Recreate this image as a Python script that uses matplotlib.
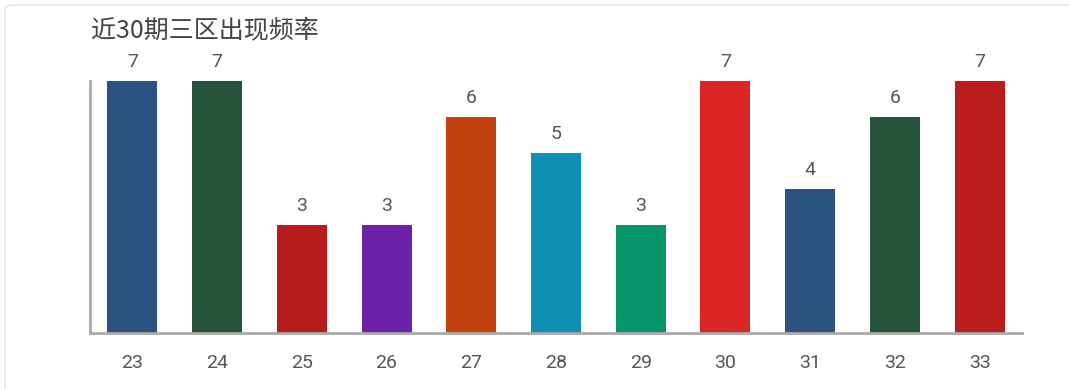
import matplotlib.pyplot as plt
from matplotlib.patches import FancyBboxPatch

# -----------------------------
# Data
# -----------------------------
categories = ["23", "24", "25", "26", "27", "28", "29", "30", "31", "32", "33"]
counts = [7, 7, 3, 3, 6, 5, 3, 7, 4, 6, 7]
bar_colors = ["#2c5282", "#23533b", "#b71c1c", "#6b21a8", "#c2410c", "#0e90b5",
              "#07966a", "#dc2626", "#2c5282", "#23533b", "#b91c1c"]
title = "近30期三区出现频率"

plt.rcParams["font.family"] = ["Roboto", "Noto Sans CJK SC", "DejaVu Sans"]

fig = plt.figure(figsize=(10.69, 3.89), dpi=100)

# light card frame
frame = FancyBboxPatch((5 / 1069, -0.3), 1.2, 1.3 - 5 / 389,
                       boxstyle="round,pad=0,rounding_size=0.01",
                       transform=fig.transFigure, facecolor="white", edgecolor="#e6e6e6",
                       linewidth=1.2, zorder=-1)
fig.patches.append(frame)

ax = fig.add_axes([90 / 1069, 1 - 333 / 389, (1022 - 90) / 1069, (333 - 81) / 389])
ax.set_facecolor("none")

x = range(len(categories))
bars = ax.bar(x, counts, width=0.59, color=bar_colors)
for bar, v in zip(bars, counts):
    ax.annotate(str(v), (bar.get_x() + bar.get_width() / 2, v), xytext=(0, 7),
                textcoords="offset points", ha="center", va="bottom",
                fontsize=14, color="#555555")

ax.set_xlim(-0.5, len(categories) - 0.5)
ax.set_ylim(0, 7)
ax.set_xticks(list(x))
ax.set_xticklabels(categories, fontsize=14, color="#555555")
ax.tick_params(axis="x", length=0, pad=15)
ax.set_yticks([])

for side in ["top", "right"]:
    ax.spines[side].set_visible(False)
for side in ["left", "bottom"]:
    ax.spines[side].set_color("#aaaaaa")
    ax.spines[side].set_linewidth(2)

fig.text(91 / 1069, 1 - 31 / 389, title, fontsize=18, color="#444444",
         ha="left", va="center", family=["Noto Sans CJK SC", "DejaVu Sans"])

fig.savefig("out.png", dpi=100)
